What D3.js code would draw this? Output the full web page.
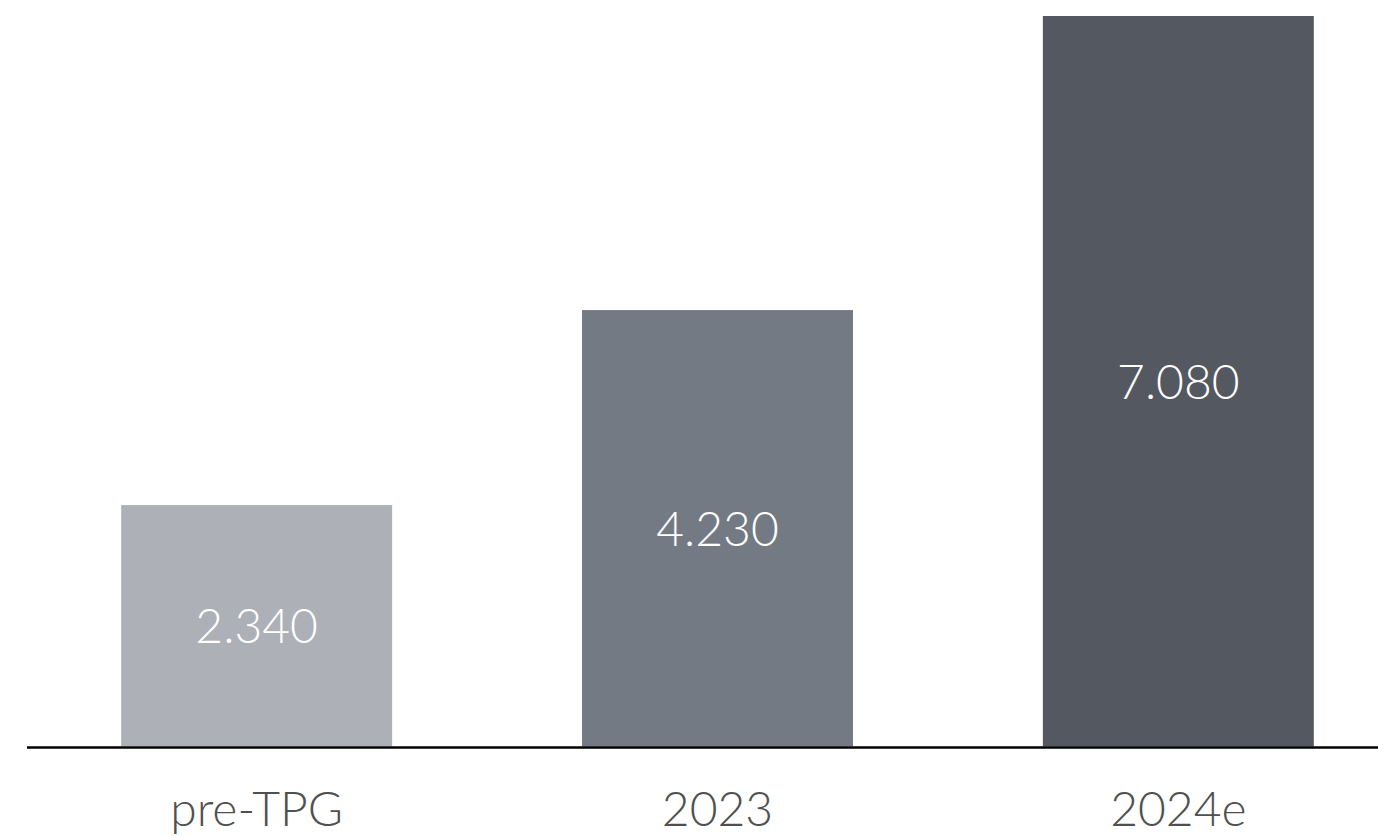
<!DOCTYPE html>
<html>
<head>
<meta charset="utf-8">
<script src="https://cdn.jsdelivr.net/npm/d3@7"></script>
<style>
  html, body { margin: 0; padding: 0; background: #fff; }
  svg { display: block; }
  text { font-family: "Lato", "DejaVu Sans", sans-serif; font-weight: 300; }
</style>
</head>
<body>
<svg id="chart" width="1378" height="836"></svg>
<script>
// Categories, values and the printed labels
const categories = ["pre-TPG", "2023", "2024e"];
const values = [2.34, 4.23, 7.08];
const valueLabels = ["2.340", "4.230", "7.080"];
const barColors = ["#adb0b7", "#747a83", "#545961"];

const svg = d3.select("#chart");
const baseline = 746.5;

const x = d3.scaleBand()
  .domain(categories)
  .range([29, 1406])
  .paddingInner(0.412)
  .paddingOuter(0.2);

const y = d3.scaleLinear()
  .domain([0, d3.max(values)])
  .range([baseline, 16]);

const data = categories.map((c, i) => ({ cat: c, value: values[i], label: valueLabels[i], color: barColors[i] }));

// Bars
svg.append("g").selectAll("rect")
  .data(data)
  .join("rect")
  .attr("x", d => x(d.cat))
  .attr("y", d => y(d.value))
  .attr("width", x.bandwidth())
  .attr("height", d => y(0) - y(d.value))
  .attr("fill", d => d.color);

// Value labels, centred inside each bar
svg.append("g").selectAll("text")
  .data(data)
  .join("text")
  .attr("x", d => x(d.cat) + x.bandwidth() / 2)
  .attr("y", d => (y(d.value) + y(0)) / 2)
  .attr("dy", "0.36em")
  .attr("text-anchor", "middle")
  .attr("fill", "#ffffff")
  .attr("font-size", 48)
  .text(d => d.label);

// Category axis
const axis = svg.append("g")
  .attr("transform", `translate(0,${baseline + 1})`)
  .call(d3.axisBottom(x).tickSize(0).tickPadding(44));
axis.select(".domain")
  .attr("d", "M27,0H1378")
  .attr("stroke", "#000")
  .attr("stroke-width", 2.4);
axis.selectAll(".tick text")
  .attr("font-size", 48)
  .attr("fill", "#505050")
  .style("font-family", "Lato, 'DejaVu Sans', sans-serif")
  .style("font-weight", 300);
</script>
</body>
</html>
